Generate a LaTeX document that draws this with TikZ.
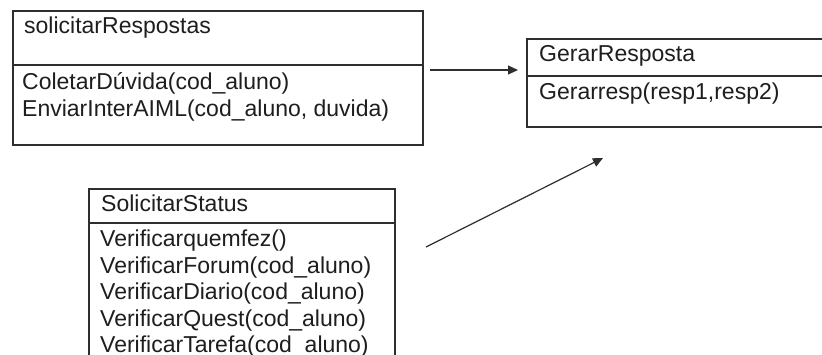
\documentclass[tikz,border=0pt]{standalone}
\usepackage{fontspec}
\setmainfont{Liberation Sans}
\usetikzlibrary{arrows.meta}
\definecolor{ink}{HTML}{1E1E1E}
\definecolor{edge}{HTML}{2E2E2E}
\begin{document}
\begin{tikzpicture}[x=1pt,y=-1pt,
  classbox/.style={draw=edge,line width=1.4pt,rectangle},
  divider/.style={draw=edge,line width=1.4pt},
  label/.style={anchor=base west,inner sep=0pt,text=ink,font=\fontsize{23}{26}\selectfont},
  link/.style={draw=edge,line width=1.2pt,-{Triangle[length=10pt,width=9pt]}}]
  \useasboundingbox[fill=white] (0,0) rectangle (822,354);
  \clip (0,0) rectangle (822,354);

  % class solicitarRespostas
  \draw[classbox] (13,11) rectangle (423,145);
  \draw[divider] (13,65) -- (423,65);
  \node[label] (rtitle) at (24,33) {solicitarRespostas};
  \node[label] (r1) at (22,89) {ColetarDúvida(cod\_aluno)};
  \node[label] (r2) at (22,116) {EnviarInterAIML(cod\_aluno, duvida)};

  % class GerarResposta (runs past the right edge)
  \draw[classbox] (527,39) rectangle (840,127);
  \draw[divider] (527,76) -- (840,76);
  \node[label] (gtitle) at (539,61.5) {GerarResposta};
  \node[label] (g1) at (539,99) {Gerarresp(resp1,resp2)};

  % class SolicitarStatus (runs past the bottom edge)
  \draw[classbox] (89,189) rectangle (395,380);
  \draw[divider] (89,223) -- (395,223);
  \node[label] (stitle) at (101,211.5) {SolicitarStatus};
  \node[label] (s1) at (100,246.5) {Verificarquemfez()};
  \node[label] (s2) at (100,273) {VerificarForum(cod\_aluno)};
  \node[label] (s3) at (100,299.5) {VerificarDiario(cod\_aluno)};
  \node[label] (s4) at (100,326) {VerificarQuest(cod\_aluno)};
  \node[label] (s5) at (100,352) {VerificarTarefa(cod\_aluno)};

  % message arrows
  \coordinate (a1from) at (430,70);
  \coordinate (a1to) at (518,70);
  \coordinate (a2from) at (426,247);
  \coordinate (a2to) at (603,158);
  \draw[link] (a1from) -- (a1to);
  \draw[link] (a2from) -- (a2to);
\end{tikzpicture}
\end{document}
